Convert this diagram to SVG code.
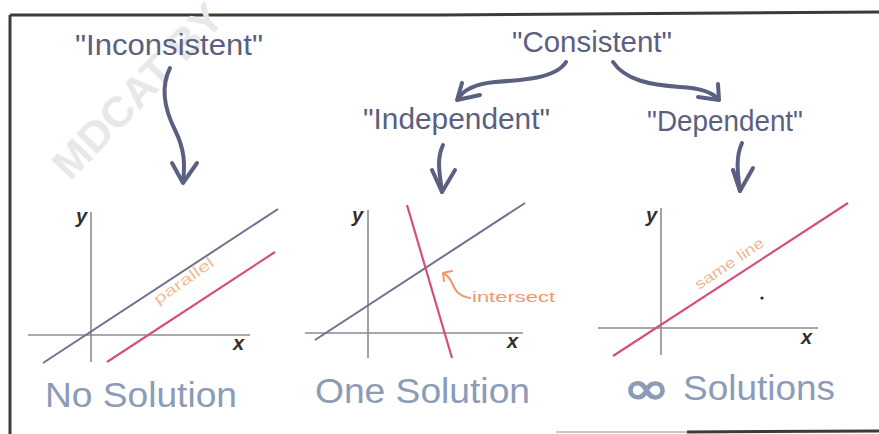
<svg xmlns="http://www.w3.org/2000/svg" width="879" height="434" viewBox="0 0 879 434">
<style>
.lbl{font-family:"Liberation Sans","DejaVu Sans",sans-serif;font-size:29px;fill:#5b5f80}
.big{font-family:"Liberation Sans","DejaVu Sans",sans-serif;font-size:35px;fill:#8c9bb6}
.ax{font-family:"Liberation Sans",sans-serif;font-size:20px;font-weight:bold;font-style:italic;fill:#2e2e2e}
.ann{font-family:"Liberation Sans",sans-serif;font-size:15px}
.arr{fill:none;stroke:#5b5f80;stroke-width:4;stroke-linecap:round;stroke-linejoin:round}
.axis{stroke:#8e8a92;stroke-width:1.6}
.gl{stroke:#70708e;stroke-width:2}
.pl{stroke:#d4507a;stroke-width:2.2}
</style>
<rect width="879" height="434" fill="#ffffff"/>
<g id="frame" fill="none">
<path d="M10,15 L440,15 L879,12" stroke="#3e3a36" stroke-width="3"/>
<path d="M10,15 L10,434" stroke="#3e3a36" stroke-width="3"/>
<path d="M556,432 L687,432" stroke="#c8c8c8" stroke-width="2"/>
<path d="M687,432 L879,431" stroke="#3e3a36" stroke-width="3"/>
</g>
<text id="watermark" transform="translate(70,182) rotate(-46)" font-family="Liberation Sans,sans-serif" font-weight="bold" font-size="42" fill="#e8e8e8" textLength="225" lengthAdjust="spacingAndGlyphs">MDCAT BY</text>
<g id="connectors">
<path class="arr" d="M170,68 C160,88 165,110 175,130 S185,165 183,182"/>
<path class="arr" d="M172,163 L183,183 L197,163"/>
<path class="arr" d="M566,62 C556,78 525,80 495,82 C475,84 463,90 458,99"/>
<path class="arr" d="M462,83 L457,100 L480,95"/>
<path class="arr" d="M613,62 C625,80 650,85 680,87 C700,88 712,92 718,99"/>
<path class="arr" d="M718,84 L719,100 L698,97"/>
<path class="arr" d="M443,145 C436,160 440,175 442,192"/>
<path class="arr" d="M432,170 L442,192 L455,170"/>
<path class="arr" d="M742,143 C735,158 738,175 740,191"/>
<path class="arr" d="M733,170 L740,191 L753,168"/>
</g>
<g id="inconsistent"><text class="lbl" x="75" y="55" textLength="188" lengthAdjust="spacingAndGlyphs">"Inconsistent"</text></g>
<g id="consistent"><text class="lbl" x="512" y="52" textLength="160" lengthAdjust="spacingAndGlyphs">"Consistent"</text></g>
<g id="independent"><text class="lbl" x="363" y="129" textLength="187" lengthAdjust="spacingAndGlyphs">"Independent"</text></g>
<g id="dependent"><text class="lbl" x="647" y="131" textLength="156" lengthAdjust="spacingAndGlyphs">"Dependent"</text></g>
<g id="graph-no-solution">
<line class="axis" x1="91" y1="212" x2="91" y2="362"/>
<line class="axis" x1="28" y1="335" x2="250" y2="335"/>
<line class="gl" x1="43" y1="363" x2="278" y2="209"/>
<line class="pl" x1="107" y1="362" x2="275" y2="252"/>
<text class="ax" x="76" y="223">y</text>
<text class="ax" x="233" y="350">x</text>
<text class="ann" fill="#f2bc94" transform="translate(158,305) rotate(-35)" textLength="70" lengthAdjust="spacingAndGlyphs">parallel</text>
<text class="big" x="45" y="407" textLength="192" lengthAdjust="spacingAndGlyphs">No Solution</text>
</g>
<g id="graph-one-solution">
<line class="axis" x1="368" y1="210" x2="368" y2="358"/>
<line class="axis" x1="305" y1="333" x2="523" y2="333"/>
<line class="gl" x1="315" y1="340" x2="525" y2="203"/>
<line class="pl" x1="407" y1="205" x2="452" y2="358"/>
<text class="ax" x="352" y="222">y</text>
<text class="ax" x="507" y="348">x</text>
<path d="M470,298 C458,296 455,290 452,283 C450,278 447,275 443,273 M443,273 L452,271 M443,273 L444,281" fill="none" stroke="#f0986a" stroke-width="2" stroke-linecap="round"/>
<text class="ann" fill="#f0986a" x="472" y="302" textLength="83" lengthAdjust="spacingAndGlyphs">intersect</text>
<text class="big" x="315" y="403" textLength="215" lengthAdjust="spacingAndGlyphs">One Solution</text>
</g>
<g id="graph-infinite-solutions">
<line class="axis" x1="661" y1="208" x2="661" y2="355"/>
<line class="axis" x1="598" y1="328" x2="818" y2="328"/>
<line class="pl" x1="613" y1="356" x2="848" y2="203"/>
<circle cx="762" cy="298" r="1.6" fill="#222"/>
<text class="ax" x="646" y="222">y</text>
<text class="ax" x="801" y="344">x</text>
<text class="ann" fill="#eab898" transform="translate(699,290) rotate(-34)" textLength="80" lengthAdjust="spacingAndGlyphs">same line</text>
<text x="623" y="404" font-family="DejaVu Sans,sans-serif" font-size="46" fill="#8c9bb6" stroke="#8c9bb6" stroke-width="1.5" textLength="47" lengthAdjust="spacingAndGlyphs">∞</text>
<text class="big" x="683" y="400" textLength="152" lengthAdjust="spacingAndGlyphs">Solutions</text>
</g>
</svg>
